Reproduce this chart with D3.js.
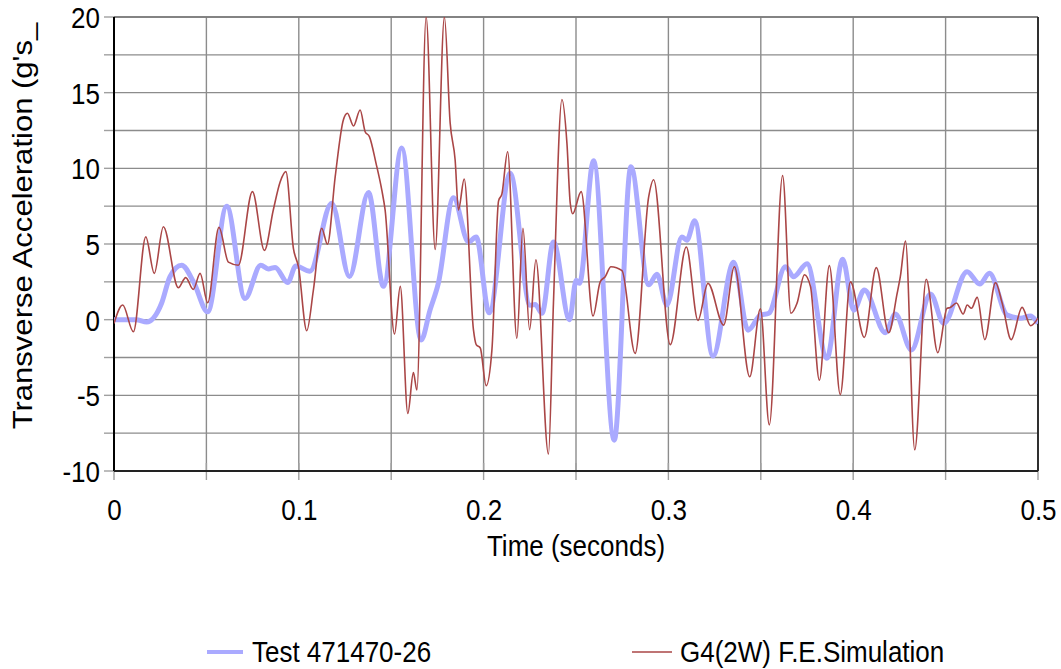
<!DOCTYPE html>
<html><head><meta charset="utf-8">
<script src="https://cdn.jsdelivr.net/npm/d3@7"></script>
<style>
html,body{margin:0;padding:0;background:#fff;}
svg text{font-family:"Liberation Sans",Arial,sans-serif;fill:#000;}
</style></head>
<body>
<svg id="chart" width="1061" height="669"></svg>
<script>
// ---- DATA ----
const testTime = [0,0.012,0.0177,0.0258,0.0303,0.0366,0.043,0.0507,0.061,0.0709,0.0794,0.0835,0.0872,0.094,0.0984,0.106,0.1178,0.1274,0.1377,0.1458,0.1557,0.1662,0.171,0.1755,0.1837,0.1918,0.196,0.203,0.2144,0.2252,0.2279,0.2316,0.2378,0.2465,0.2501,0.2519,0.2595,0.2707,0.2797,0.2893,0.2938,0.2992,0.3073,0.31,0.3142,0.3241,0.3353,0.3431,0.3498,0.3543,0.3633,0.3678,0.375,0.3858,0.3943,0.4003,0.406,0.4174,0.4228,0.4315,0.4418,0.449,0.4616,0.4685,0.4737,0.4833,0.4905,0.4959,0.5];
const testAccel = [0,0,-0.15,1.1,2.85,3.6,2.5,0.52,7.5,1.4,3.6,3.35,3.45,2.45,3.55,3.2,7.7,2.85,8.4,2.2,11.35,-1.35,0.63,2.4,8.06,5.13,5.47,0.45,9.67,0.95,1.0,0.42,5.13,0,2.6,2.4,10.5,-7.96,10.1,2.3,3.0,0.97,5.47,5.25,6.53,-2.4,3.8,-0.7,0.3,0.42,3.5,2.84,3.7,-2.55,4.0,0.63,1.96,-0.86,0.37,-2.0,1.7,-0.24,3.17,2.35,3.06,0.3,0.1,0.24,-0.25];

const simTime = [0,0.0047,0.0105,0.0172,0.0218,0.0267,0.0348,0.0388,0.0429,0.0466,0.0507,0.0568,0.0619,0.0673,0.0749,0.0814,0.0862,0.0899,0.093,0.0971,0.0998,0.1043,0.1079,0.1124,0.1155,0.1197,0.1241,0.1263,0.1296,0.1332,0.1359,0.1382,0.1418,0.1449,0.1467,0.1518,0.1549,0.159,0.162,0.1639,0.1689,0.1738,0.1788,0.1819,0.1846,0.1864,0.1895,0.1945,0.196,0.1982,0.2014,0.2045,0.2081,0.2099,0.213,0.218,0.2213,0.2249,0.2283,0.2351,0.2378,0.2424,0.2451,0.2469,0.2482,0.2528,0.2592,0.2631,0.2658,0.2689,0.2749,0.282,0.2893,0.292,0.301,0.3097,0.316,0.3214,0.3299,0.3357,0.344,0.3498,0.3546,0.3618,0.3663,0.3696,0.3736,0.3769,0.3817,0.3871,0.393,0.3985,0.406,0.4125,0.4192,0.4238,0.4255,0.4283,0.4333,0.4395,0.4458,0.4508,0.4525,0.4559,0.4595,0.4617,0.464,0.4671,0.4712,0.477,0.4806,0.4855,0.4914,0.496,0.5];
const simAccel = [-0.25,0.97,-0.8,5.47,3.06,6.14,2.11,2.78,2.0,3.06,1.12,6.1,3.8,3.6,8.46,4.58,7.25,9.1,9.78,4.7,3.5,-0.73,1.96,6.04,4.98,9.45,13.2,13.64,12.8,13.85,12.42,12.1,10.33,8.57,7.25,-0.95,2.2,-6.2,-3.5,-4.65,20.0,4.64,20.0,13.0,10.55,7.25,9.3,-0.66,-1.65,-1.87,-4.37,-2.0,7.85,8.3,11.1,-1.23,6.04,-0.66,3.96,-8.88,1.1,14.55,11.65,7.68,7.0,8.46,0.24,2.5,2.84,3.5,3.24,-2.23,8.1,9.25,-1.65,4.8,-0.05,2.4,-0.36,3.5,-3.77,0.72,-6.95,9.52,0.42,1.08,2.97,2.18,-4.0,3.57,-4.95,2.5,-1.17,3.44,-0.86,1.75,2.84,5.2,-8.6,2.67,-2.18,0.75,0.8,1.1,0.37,0.97,0.75,1.47,-1.32,2.45,1.1,-1.32,0.81,-0.4,0.1];

const xTickValues = [0,0.1,0.2,0.3,0.4,0.5];
const xTickLabels = ["0","0.1","0.2","0.3","0.4","0.5"];
const yTickValues = [-10,-5,0,5,10,15,20];
const yTickLabels = ["-10","-5","0","5","10","15","20"];
const xTitle = "Time (seconds)";
const yTitle = "Transverse Acceleration (g's_";
const seriesNames = ["Test 471470-26","G4(2W) F.E.Simulation"];

// ---- CHART ----
const svg = d3.select("#chart");
const L = 114, R = 1038, T = 17, B = 471;
const SY = 1.15; // vertical glyph stretch of the reference text
const FS = 26;
const x = d3.scaleLinear().domain([0,0.5]).range([L,R]);
const y = d3.scaleLinear().domain([-10,20]).range([B,T]);
const gridColor = "#8c8c8c";

// grid
const xGrid = d3.range(0,0.5001,0.05);
const yGrid = d3.range(-10,20.001,2.5);
svg.append("g").selectAll("line").data(yGrid).join("line")
  .attr("x1",L).attr("x2",R).attr("y1",d=>y(d)).attr("y2",d=>y(d))
  .attr("stroke",gridColor).attr("stroke-width",1.4);
svg.append("g").selectAll("line").data(xGrid).join("line")
  .attr("x1",d=>x(d)).attr("x2",d=>x(d)).attr("y1",T).attr("y2",B)
  .attr("stroke",gridColor).attr("stroke-width",1.4);

// tick marks
svg.append("g").selectAll("line").data(yGrid).join("line")
  .attr("x1",L-10).attr("x2",L).attr("y1",d=>y(d)).attr("y2",d=>y(d))
  .attr("stroke","#a0a0a0").attr("stroke-width",1.4);
svg.append("g").selectAll("line").data(xGrid).join("line")
  .attr("x1",d=>x(d)).attr("x2",d=>x(d)).attr("y1",B-8).attr("y2",B+9)
  .attr("stroke","#a0a0a0").attr("stroke-width",1.4);

// borders
svg.append("line").attr("x1",L).attr("x2",R).attr("y1",T).attr("y2",T).attr("stroke","#777").attr("stroke-width",1.6);
svg.append("line").attr("x1",R).attr("x2",R).attr("y1",T).attr("y2",B).attr("stroke","#222").attr("stroke-width",1.8);
svg.append("line").attr("x1",L).attr("x2",L).attr("y1",T).attr("y2",B).attr("stroke","#000").attr("stroke-width",2);
svg.append("line").attr("x1",L).attr("x2",R).attr("y1",B).attr("y2",B).attr("stroke","#222").attr("stroke-width",1.8);

// clip
svg.append("defs").append("clipPath").attr("id","clip").append("rect")
  .attr("x",L).attr("y",T).attr("width",R-L).attr("height",B-T);

const line = d3.line().x(d=>x(d[0])).y(d=>y(d[1])).curve(d3.curveMonotoneX);
const testData = testTime.map((t,i)=>[t,testAccel[i]]);
const simData = simTime.map((t,i)=>[t,simAccel[i]]);
const plot = svg.append("g").attr("clip-path","url(#clip)");
plot.append("path").datum(testData).attr("d",line).attr("fill","none")
  .attr("stroke","#aaaaff").attr("stroke-width",5).attr("stroke-linejoin","round");
plot.append("path").datum(simData).attr("d",line).attr("fill","none")
  .attr("stroke","#aa4646").attr("stroke-width",1.6).attr("stroke-linejoin","round");

// axes labels (d3 axes for tick text)
const xAxis = d3.axisBottom(x).tickValues(xTickValues).tickFormat((d,i)=>xTickLabels[i]).tickSize(0).tickPadding(0);
const gx = svg.append("g").attr("transform",`translate(0,${B})`).call(xAxis);
gx.select(".domain").remove();
gx.selectAll("text").attr("dy",null).attr("y",0)
  .attr("transform",`translate(0,49) scale(1,${SY})`)
  .style("font-size",FS+"px").style("font-family",'"Liberation Sans",Arial,sans-serif').attr("fill","#000");

const yAxis = d3.axisLeft(y).tickValues(yTickValues).tickFormat((d,i)=>yTickLabels[i]).tickSize(0).tickPadding(0);
const gy = svg.append("g").attr("transform",`translate(${L-14},0)`).call(yAxis);
gy.select(".domain").remove();
gy.selectAll("text").attr("dy",null).attr("x",0).attr("y",0)
  .attr("transform",`translate(0,10.5) scale(1,${SY})`)
  .style("font-size",FS+"px").style("font-family",'"Liberation Sans",Arial,sans-serif').attr("fill","#000");

svg.append("text").attr("transform",`translate(${(L+R)/2},556) scale(1,${SY})`).attr("text-anchor","middle")
  .style("font-size",FS+"px").text(xTitle);
svg.append("text").attr("transform",`translate(32,226) rotate(-90) scale(${SY},1)`).attr("text-anchor","middle")
  .style("font-size","27px").text(yTitle);

// legend
const lg = svg.append("g");
lg.append("line").attr("x1",207).attr("x2",243).attr("y1",652).attr("y2",652).attr("stroke","#aaaaff").attr("stroke-width",4);
lg.append("text").attr("transform",`translate(252,662) scale(1,${SY})`).style("font-size",FS+"px").text(seriesNames[0]);
lg.append("line").attr("x1",632).attr("x2",672).attr("y1",652).attr("y2",652).attr("stroke","#aa4646").attr("stroke-width",1.6);
lg.append("text").attr("transform",`translate(680,662) scale(1,${SY})`).style("font-size",FS+"px").text(seriesNames[1]);
</script>
</body></html>
